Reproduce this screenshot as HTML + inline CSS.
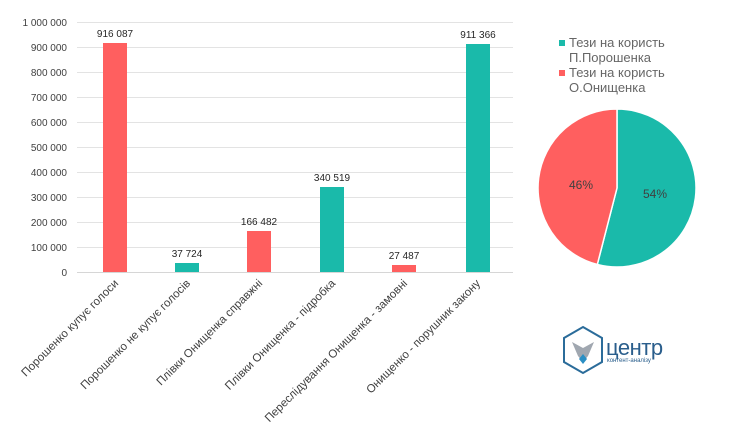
<!DOCTYPE html>
<html><head><meta charset="utf-8"><style>
html,body{margin:0;padding:0;background:#fff;}
svg{display:block;font-family:"Liberation Sans",sans-serif;}
</style></head><body>
<svg width="740" height="446" viewBox="0 0 740 446" xmlns="http://www.w3.org/2000/svg">
<g stroke="#e3e3e3" stroke-width="1">
<line x1="77" x2="513" y1="22.5" y2="22.5"/><line x1="77" x2="513" y1="47.5" y2="47.5"/>
<line x1="77" x2="513" y1="72.5" y2="72.5"/><line x1="77" x2="513" y1="97.5" y2="97.5"/>
<line x1="77" x2="513" y1="122.5" y2="122.5"/><line x1="77" x2="513" y1="147.5" y2="147.5"/>
<line x1="77" x2="513" y1="172.5" y2="172.5"/><line x1="77" x2="513" y1="197.5" y2="197.5"/>
<line x1="77" x2="513" y1="222.5" y2="222.5"/><line x1="77" x2="513" y1="247.5" y2="247.5"/>
<line x1="77" x2="513" y1="272.5" y2="272.5" stroke="#d6d6d6"/>
</g>
<g font-size="10" fill="#404040" text-anchor="end">
<text x="67" y="26">1 000 000</text><text x="67" y="51">900 000</text><text x="67" y="76">800 000</text>
<text x="67" y="101">700 000</text><text x="67" y="126">600 000</text><text x="67" y="151">500 000</text>
<text x="67" y="176">400 000</text><text x="67" y="201">300 000</text><text x="67" y="226">200 000</text>
<text x="67" y="251">100 000</text><text x="67" y="276">0</text>
</g>
<rect x="103" y="43" width="24" height="229" fill="#FF5F5F"/>
<rect x="175" y="263" width="24" height="9" fill="#1ABAAA"/>
<rect x="247" y="231" width="24" height="41" fill="#FF5F5F"/>
<rect x="320" y="187" width="24" height="85" fill="#1ABAAA"/>
<rect x="392" y="265" width="24" height="7" fill="#FF5F5F"/>
<rect x="466" y="44" width="24" height="228" fill="#1ABAAA"/>
<g font-size="10" fill="#262626" text-anchor="middle">
<text x="115" y="37">916 087</text><text x="187" y="257">37 724</text><text x="259" y="225">166 482</text>
<text x="332" y="181">340 519</text><text x="404" y="259">27 487</text><text x="478" y="38">911 366</text>
</g>
<g font-size="11.5" fill="#404040" text-anchor="end">
<text transform="translate(119,284) rotate(-45)">Порошенко купує голоси</text>
<text transform="translate(191,284) rotate(-45)">Порошенко не купує голосів</text>
<text transform="translate(263,284) rotate(-45)">Плівки Онищенка справжні</text>
<text transform="translate(336,284) rotate(-45)">Плівки Онищенка - підробка</text>
<text transform="translate(408,284) rotate(-45)">Переслідування Онищенка - замовні</text>
<text transform="translate(481,284) rotate(-45)">Онищенко - порушник закону</text>
</g>
<rect x="559" y="40" width="6" height="6" fill="#1ABAAA"/>
<rect x="559" y="70" width="6" height="6" fill="#FF5F5F"/>
<g font-size="13" fill="#666">
<text x="569" y="47">Тези на користь</text><text x="569" y="62">П.Порошенка</text>
<text x="569" y="77">Тези на користь</text><text x="569" y="92">О.Онищенка</text>
</g>
<path d="M617,188 L617,109 A79,79 0 1,1 597.3,264.5 Z" fill="#1ABAAA" stroke="#fff" stroke-width="1.5"/>
<path d="M617,188 L597.3,264.5 A79,79 0 0,1 617,109 Z" fill="#FF5F5F" stroke="#fff" stroke-width="1.5"/>
<text x="655" y="198" font-size="12" fill="#404040" text-anchor="middle">54%</text>
<text x="581" y="189" font-size="12" fill="#404040" text-anchor="middle">46%</text>
<polygon points="583,327 602,338 602,362 583,373 564,362 564,338" fill="none" stroke="#2b6c9a" stroke-width="2"/>
<polygon points="572,342 583,348 594,342 588,356 583,362 578,356" fill="#a0a7b0"/>
<polygon points="583,354 587,359 583,364 579,359" fill="#2b8fc4"/>
<text x="606" y="355" font-size="22" fill="#2a5e8c" letter-spacing="-0.5">центр</text>
<text x="607" y="362" font-size="6" fill="#2a5e8c">контент-аналізу</text>
</svg>
</body></html>
